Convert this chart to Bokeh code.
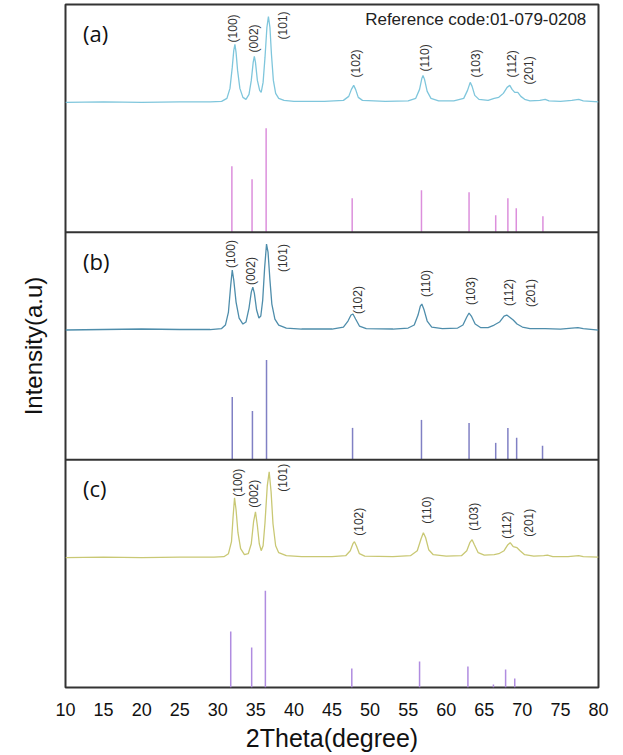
import numpy as np
from bokeh.plotting import figure
from bokeh.models import Range1d, FixedTicker, Span
from bokeh.core.properties import value
from bokeh.embed import file_html
from bokeh.resources import INLINE

# ---------------- data ----------------
x_ticks = [10, 15, 20, 25, 30, 35, 40, 45, 50, 55, 60, 65, 70, 75, 80]
hkl = ["(100)", "(002)", "(101)", "(102)", "(110)", "(103)", "(112)", "(201)"]

# reference stick patterns (2theta, intensity a.u.)
stick_pos_a = [31.85, 34.5, 36.35, 47.65, 56.75, 63.0, 66.5, 68.1, 69.2, 72.7]
stick_int_a = [66, 53, 104, 34, 42, 40, 17, 34, 24, 16]
stick_pos_b = [31.9, 34.55, 36.4, 47.7, 56.75, 63.0, 66.5, 68.1, 69.25, 72.65]
stick_int_b = [63, 49, 100, 32, 40, 37, 17, 32, 22, 14]
stick_pos_c = [31.7, 34.45, 36.25, 47.6, 56.5, 62.85, 66.2, 67.8, 69.0]
stick_int_c = [56, 40, 97, 19, 26, 21, 3, 18, 9]

# measured patterns (2theta, intensity above background, a.u.)
tt_a = [10, 15, 20, 25, 29, 30.5, 31.2, 31.6, 31.9, 32.1, 32.25, 32.4, 32.6, 32.9, 33.3, 33.7,
        34.1, 34.4, 34.65, 34.8, 34.95, 35.2, 35.5, 35.7, 35.95, 36.2, 36.45, 36.65, 36.85,
        37.05, 37.3, 37.6, 38, 38.7, 40, 44, 46.5, 47.2, 47.55, 47.85, 48.1, 48.45, 49, 52,
        55, 56, 56.5, 56.8, 56.95, 57.15, 57.5, 58, 59, 61, 62.3, 62.8, 63.15, 63.4, 63.75,
        64.3, 65.5, 66.3, 66.9, 67.5, 68.0, 68.35, 68.65, 69.0, 69.4, 69.8, 70.3, 71, 72.3,
        73.0, 73.5, 75, 76.5, 77.4, 78, 80]
int_a = [0, 0.5, 0, 0.5, 0.5, 1, 4, 14, 35, 52, 58, 50, 32, 14, 5, 3,
         8, 22, 40, 46, 40, 22, 12, 10, 20, 45, 75, 86, 75,
         48, 22, 9, 4, 2, 1, 1, 2, 6, 13, 17, 13, 5, 2, 1,
         1.5, 4, 13, 24, 27, 23, 11, 4, 1.5, 1.5, 4, 12, 20, 16, 7,
         3, 2, 4, 5, 9, 15, 17, 13, 10, 10, 6, 3, 1.5, 2,
         3, 1.5, 1, 2, 3, 1.5, 0.5]

tt_b = [10, 15, 20, 25, 29, 30.5, 31.0, 31.4, 31.7, 31.9, 32.1, 32.4, 32.8, 33.3, 33.7,
        34.1, 34.4, 34.6, 34.8, 35.1, 35.4, 35.65, 35.9, 36.15, 36.4, 36.6, 36.85, 37.1,
        37.5, 38, 39, 41, 45, 46.5, 47.1, 47.5, 47.75, 48.1, 48.6, 49.5, 53, 55, 55.8,
        56.3, 56.6, 56.8, 57.1, 57.5, 58.1, 59.5, 61.5, 62.2, 62.7, 63.0, 63.3, 63.8, 64.5,
        65.5, 66.3, 67.0, 67.6, 67.95, 68.3, 68.8, 69.3, 70, 71, 73, 75, 76.5, 77.3, 78, 80]
int_b = [0, 0.5, 1, 0.5, 0.5, 1.5, 5, 18, 45, 60, 50, 28, 12, 6, 8,
         22, 38, 43, 37, 20, 12, 14, 30, 62, 86, 78, 50, 26,
         11, 5, 2, 1, 1, 3, 9, 15, 16, 11, 4, 1.5, 1, 2, 5,
         15, 24, 26, 20, 9, 3, 1.5, 2, 5, 13, 17, 14, 6, 2.5,
         2.5, 5, 8, 14, 15, 13, 10, 6, 3, 1.5, 1.5, 1, 2, 2.5, 1.5, 0]

tt_c = [10, 15, 20, 25, 29.5, 30.8, 31.4, 31.8, 32.0, 32.2, 32.4, 32.65, 33.0, 33.5, 34.0,
        34.4, 34.7, 34.95, 35.2, 35.45, 35.7, 35.95, 36.2, 36.5, 36.75, 37.0, 37.25, 37.6,
        38, 39, 41, 45, 46.8, 47.4, 47.75, 47.95, 48.2, 48.6, 49.3, 53, 55.3, 56.2, 56.7,
        57.0, 57.3, 57.7, 58.3, 60, 62, 62.7, 63.1, 63.4, 63.7, 64.2, 65, 66.3, 66.9, 67.6,
        68.1, 68.4, 68.8, 69.3, 69.7, 70.3, 71.5, 72.8, 73.3, 74, 76, 77.4, 78, 80]
int_c = [0, 0.5, 0, 0.5, 0.5, 1, 4, 16, 40, 60, 48, 25, 9, 3, 4,
         14, 36, 46, 32, 14, 7, 12, 35, 72, 86, 66, 34, 12,
         5, 2, 1, 1, 2, 7, 14, 16, 12, 4, 1.5, 1, 2, 7, 19,
         25, 20, 8, 3, 1.5, 2, 7, 15, 18, 13, 5, 2.5, 3, 4, 7,
         13, 15, 11, 10, 7, 3, 1.5, 2, 2.5, 1, 1, 2, 1, 0.5]

# peak label positions (2theta, height of label start above background, a.u.)
lab_x_a = [32.06, 34.7, 38.6, 48.1, 57.15, 63.85, 68.6, 70.9]
lab_y_a = [60, 50, 63, 25, 31, 25, 25, 18]
lab_x_b = [31.8, 34.4, 38.5, 48.4, 57.3, 63.3, 68.2, 71.1]
lab_y_b = [62, 45, 58, 16, 33, 25, 24, 23]
lab_x_c = [32.6, 34.7, 38.5, 48.6, 57.5, 63.6, 68.0, 70.9]
lab_y_c = [61, 50, 66, 22, 34, 27, 19, 21]

panel_names = ["(a)", "(b)", "(c)"]
ref_code = "Reference code:01-079-0208"

# ---------------- styling / layout ----------------
curve_colors = ["#7fc6dc", "#4e8dab", "#c9c874"]
stick_colors = ["#dc8fdc", "#8080c4", "#b08ce0"]
PX = 1.0 / 228.0          # panel units per a.u.
curve_offset = 130 * PX   # background level above panel bottom

p = figure(width=610, height=754, output_backend="svg", toolbar_location=None,
           x_range=Range1d(10, 80), y_range=Range1d(0, 3),
           min_border_left=65, min_border_right=12, min_border_top=4, min_border_bottom=66)
p.background_fill_color = "white"
p.border_fill_color = "white"
p.outline_line_color = "#333333"
p.outline_line_width = 2
p.xgrid.visible = False
p.ygrid.visible = False

panels = [
    (2.0, stick_pos_a, stick_int_a, tt_a, int_a, lab_x_a, lab_y_a),
    (1.0, stick_pos_b, stick_int_b, tt_b, int_b, lab_x_b, lab_y_b),
    (0.0, stick_pos_c, stick_int_c, tt_c, int_c, lab_x_c, lab_y_c),
]

for i, (base, sp, si, tt, it, lx, ly) in enumerate(panels):
    sp = np.array(sp)
    si = np.array(si)
    p.segment(x0=sp, y0=np.full(len(sp), base), x1=sp, y1=base + si * PX,
              line_color=stick_colors[i], line_width=1.5)
    p.line(np.array(tt), base + curve_offset + np.array(it) * PX,
           line_color=curve_colors[i], line_width=1.3)
    p.text(x=np.array(lx), y=base + curve_offset + np.array(ly) * PX, text=hkl,
           angle=np.pi / 2, text_align="left", text_baseline="middle",
           text_font=value("Liberation Sans"), text_font_size="12px", text_color="#333333")
    p.text(x=[12.3], y=[base + 0.875], text=[panel_names[i]],
           text_align="left", text_baseline="middle",
           text_font=value("Open Sans"), text_font_size="22px", text_color="#111111")

p.text(x=[78.4], y=[2.934], text=[ref_code], text_align="right", text_baseline="middle",
       text_font=value("Liberation Sans"), text_font_size="17px", text_color="#222222")

for yb in [1.0, 2.0]:
    p.add_layout(Span(location=yb, dimension="width", line_color="#333333", line_width=2))

# x axis
p.xaxis.ticker = FixedTicker(ticks=x_ticks)
p.xaxis.major_label_overrides = {t: str(t) for t in x_ticks}
p.xaxis.major_tick_line_color = None
p.xaxis.minor_tick_line_color = None
p.xaxis.axis_line_color = None
p.xaxis.major_label_standoff = 9
p.xaxis.major_label_text_font = "Liberation Sans"
p.xaxis.major_label_text_font_size = "18px"
p.xaxis.major_label_text_color = "#111111"
p.xaxis.axis_label = "2Theta(degree)"
p.xaxis.axis_label_text_font = "Liberation Sans"
p.xaxis.axis_label_text_font_size = "25px"
p.xaxis.axis_label_text_font_style = "normal"
p.xaxis.axis_label_text_color = "#111111"
p.xaxis.axis_label_standoff = 5

# y axis: only the title
p.yaxis.ticker = FixedTicker(ticks=[])
p.yaxis.major_tick_line_color = None
p.yaxis.minor_tick_line_color = None
p.yaxis.axis_line_color = None
p.yaxis.major_label_text_color = None
p.yaxis.axis_label = "Intensity(a.u)"
p.yaxis.axis_label_text_font = "Liberation Sans"
p.yaxis.axis_label_text_font_size = "24px"
p.yaxis.axis_label_text_font_style = "normal"
p.yaxis.axis_label_text_color = "#111111"
p.yaxis.axis_label_standoff = 19

open("out.html", "w").write(file_html(p, INLINE))
